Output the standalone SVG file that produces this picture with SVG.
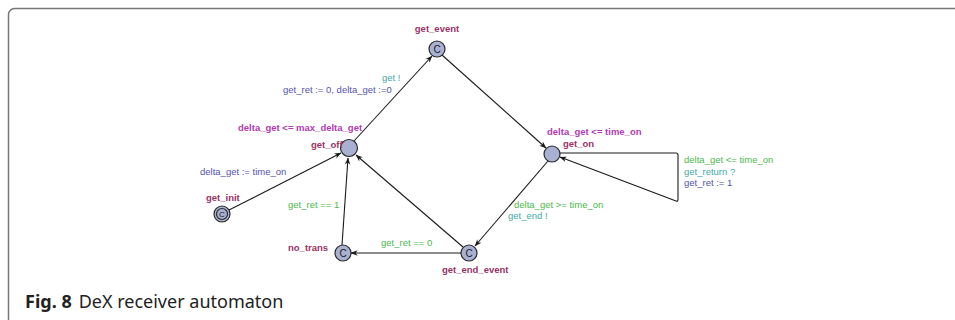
<svg xmlns="http://www.w3.org/2000/svg" width="955" height="320" viewBox="0 0 955 320">
<style>
.loc{fill:#a9b1d2;stroke:#2a2a2a;stroke-width:1.2}
.edge{fill:none;stroke:#1a1a1a;stroke-width:1.1}
.t{font-family:"Liberation Sans",Arial,sans-serif;font-size:9.5px}
.name{fill:#993366;font-weight:bold}
.inv{fill:#b03cb0;font-weight:bold}
.guard{fill:#4cb84c}
.sync{fill:#3fa9a9}
.asg{fill:#5353ad}
.c{font-family:"Liberation Sans",Arial,sans-serif;font-size:10px;fill:#1a1a1a;text-anchor:middle}
.cap{font-family:"Noto Sans","Open Sans",sans-serif;font-size:18px;fill:#222}
</style>
<defs>
<marker id="arr" viewBox="0 0 10 10" refX="9.5" refY="5" markerWidth="7" markerHeight="7" orient="auto" markerUnits="userSpaceOnUse">
<path d="M0,1 L10,5 L0,9 L3,5 Z" fill="#1a1a1a"/>
</marker>
</defs>
<rect x="8.5" y="8.5" width="960" height="330" rx="6" fill="none" stroke="#777" stroke-width="1.5"/>
<g id="connectors">
<line class="edge" x1="229" y1="210" x2="341" y2="153" marker-end="url(#arr)"/>
<line class="edge" x1="354" y1="141" x2="432" y2="56" marker-end="url(#arr)"/>
<line class="edge" x1="442" y1="55" x2="546" y2="148" marker-end="url(#arr)"/>
<line class="edge" x1="548" y1="161" x2="475" y2="246" marker-end="url(#arr)"/>
<line class="edge" x1="461" y1="253" x2="351" y2="253" marker-end="url(#arr)"/>
<line class="edge" x1="342" y1="245" x2="348" y2="158" marker-end="url(#arr)"/>
<line class="edge" x1="463" y1="247" x2="356" y2="155" marker-end="url(#arr)"/>
<path class="edge" d="M560,153 L676,153 Q678,153 678,155 L678,199 Q678,202 676,201 L560,157" marker-end="url(#arr)"/>
</g>
<g id="get_event">
<circle class="loc" cx="437" cy="49" r="8"/>
<text class="c" x="437" y="52.5">C</text>
<text class="t name" x="437" y="32" text-anchor="middle">get_event</text>
</g>
<g id="get_off">
<circle class="loc" cx="349" cy="148" r="8.5"/>
<text class="t name" x="311" y="148">get_off</text>
<text class="t inv" x="238" y="131">delta_get &lt;= max_delta_get</text>
</g>
<g id="get_on">
<circle class="loc" cx="552" cy="154" r="8"/>
<text class="t name" x="563" y="147">get_on</text>
<text class="t inv" x="547" y="135">delta_get &lt;= time_on</text>
</g>
<g id="get_init">
<circle class="loc" cx="222" cy="214" r="8"/>
<circle class="loc" cx="222" cy="214" r="5.5"/>
<text class="c" x="222" y="217" style="font-size:8px">C</text>
<text class="t name" x="206" y="201">get_init</text>
</g>
<g id="no_trans">
<circle class="loc" cx="343" cy="253" r="8"/>
<text class="c" x="343" y="256.5">C</text>
<text class="t name" x="288" y="251">no_trans</text>
</g>
<g id="get_end_event">
<circle class="loc" cx="469" cy="253" r="8"/>
<text class="c" x="469" y="256.5">C</text>
<text class="t name" x="442" y="273">get_end_event</text>
</g>
<g id="labels">
<text class="t sync" x="382" y="81">get !</text>
<text class="t asg" x="283" y="93">get_ret := 0, delta_get :=0</text>
<text class="t asg" x="200" y="175">delta_get := time_on</text>
<text class="t guard" x="288" y="208">get_ret == 1</text>
<text class="t guard" x="381" y="246">get_ret == 0</text>
<text class="t guard" x="514" y="208">delta_get &gt;= time_on</text>
<text class="t sync" x="508" y="219">get_end !</text>
<text class="t guard" x="684" y="163">delta_get &lt;= time_on</text>
<text class="t sync" x="684" y="175">get_return ?</text>
<text class="t asg" x="684" y="186">get_ret := 1</text>
</g>
<text class="cap" x="25" y="308"><tspan font-weight="bold">Fig. 8</tspan><tspan dx="7">DeX receiver automaton</tspan></text>
</svg>
